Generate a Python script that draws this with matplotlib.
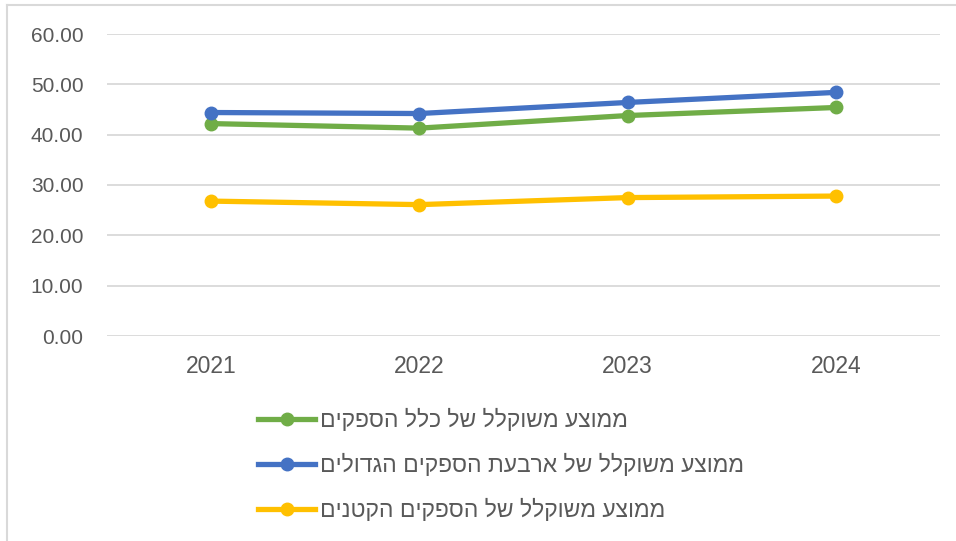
import matplotlib
matplotlib.use('Agg')
import matplotlib.pyplot as plt
from matplotlib.lines import Line2D
from matplotlib.ticker import FormatStrFormatter

plt.rcParams['font.family'] = ['Liberation Sans', 'DejaVu Sans']

# data
years = ['2021', '2022', '2023', '2024']
all_suppliers = [42.2, 41.3, 43.8, 45.4]
big_four = [44.4, 44.2, 46.4, 48.4]
small_suppliers = [26.8, 26.1, 27.5, 27.8]

labels = ['ממוצע משוקלל של כלל הספקים',
          'ממוצע משוקלל של ארבעת הספקים הגדולים',
          'ממוצע משוקלל של הספקים הקטנים']
colors = ['#70AD47', '#4472C4', '#FFC000']
text_col = '#595959'
grid_col = '#D9D9D9'

W, H = 956, 541
fig = plt.figure(figsize=(W / 100, H / 100), dpi=100)
ax = fig.add_axes([107 / W, 1 - 336 / H, (940 - 107) / W, (336 - 34) / H])

x = list(range(len(years)))
for vals, c, lab in zip([all_suppliers, big_four, small_suppliers], colors, labels):
    # matplotlib has no bidi support, so reverse the Hebrew for display
    ax.plot(x, vals, color=c, lw=3.8, marker='o', ms=9, label=lab[::-1],
            solid_capstyle='round')

ax.set_xlim(-0.5, len(years) - 0.5)
ax.set_ylim(0, 60)
ax.set_yticks(range(0, 61, 10))
ax.yaxis.set_major_formatter(FormatStrFormatter('%.2f'))
ax.set_xticks(x)
ax.set_xticklabels(years)
ax.grid(axis='y', color=grid_col, lw=1.3)
ax.set_axisbelow(True)
for s in ax.spines.values():
    s.set_visible(False)
ax.tick_params(axis='y', length=0, pad=17, labelsize=15, labelcolor=text_col)
ax.tick_params(axis='x', length=0, pad=14, labelsize=16.5, labelcolor=text_col)

handles = [Line2D([], [], color=c, lw=3.8, marker='o', ms=9) for c in colors]
fig.legend(handles, [l[::-1] for l in labels], loc='upper left',
           bbox_to_anchor=(258 / W, 1 - 409 / H), frameon=False,
           borderpad=0, borderaxespad=0,
           fontsize=16.5, labelcolor=text_col, handlelength=2.5,
           handletextpad=0.2, labelspacing=0.95)

# thin chart border (top and left edges visible in the reference)
fig.add_artist(Line2D([7 / W, 1], [1 - 5 / H, 1 - 5 / H], color=grid_col, lw=1.5))
fig.add_artist(Line2D([7 / W, 7 / W], [0, 1 - 5 / H], color=grid_col, lw=1.5))

fig.savefig('out.png', dpi=100)
